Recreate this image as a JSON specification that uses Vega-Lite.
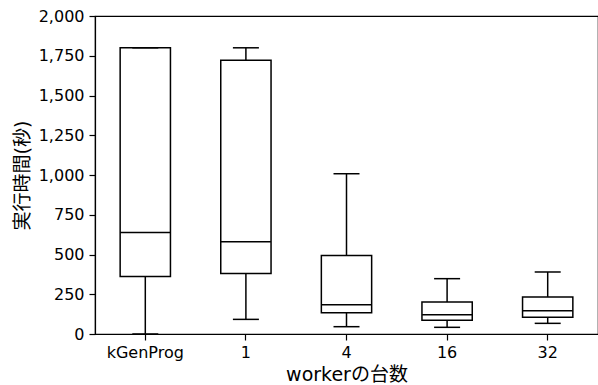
{
  "$schema": "https://vega.github.io/schema/vega-lite/v6.json",
  "width": 503,
  "height": 318,
  "autosize": {"type": "none"},
  "padding": {"left": 95, "top": 16, "right": 0, "bottom": 51},
  "background": "white",
  "config": {
    "view": {"stroke": "black", "strokeWidth": 1.2},
    "font": "DejaVu Sans, Noto Sans CJK JP",
    "axis": {
      "grid": false,
      "domainColor": "black",
      "domainWidth": 1.2,
      "tickColor": "black",
      "tickWidth": 1.2,
      "tickSize": 6,
      "labelColor": "black",
      "labelFontSize": 16,
      "labelFont": "DejaVu Sans, Noto Sans CJK JP",
      "titleFont": "DejaVu Sans, Noto Sans CJK JP",
      "titleFontSize": 19,
      "titleFontWeight": "normal",
      "titleColor": "black",
      "labelPadding": 4,
      "labelOverlap": false
    }
  },
  "data": {
    "values": [
      {"group": "kGenProg", "lower": 0, "q1": 362, "median": 639, "q3": 1800, "upper": 1800},
      {"group": "1", "lower": 92, "q1": 380, "median": 580, "q3": 1721, "upper": 1800},
      {"group": "4", "lower": 46, "q1": 134, "median": 184, "q3": 494, "upper": 1008},
      {"group": "16", "lower": 42, "q1": 86, "median": 121, "q3": 201, "upper": 348},
      {"group": "32", "lower": 67, "q1": 105, "median": 147, "q3": 233, "upper": 390}
    ]
  },
  "encoding": {
    "x": {
      "field": "group",
      "type": "nominal",
      "sort": ["kGenProg", "1", "4", "16", "32"],
      "scale": {"paddingInner": 0, "paddingOuter": 0},
      "axis": {"title": "workerの台数", "labelAngle": 0, "titlePadding": 5, "titleFontSize": 19}
    }
  },
  "layer": [
    {
      "mark": {"type": "rule", "color": "black", "strokeWidth": 1.5},
      "encoding": {
        "y": {"field": "lower", "type": "quantitative", "scale": {"domain": [0, 2000]},
          "axis": {"title": "実行時間(秒)", "values": [0, 250, 500, 750, 1000, 1250, 1500, 1750, 2000], "format": ",d", "labelPadding": 5, "titlePadding": 6, "labelOverlap": false, "labelBound": false}},
        "y2": {"field": "q1"}
      }
    },
    {
      "mark": {"type": "rule", "color": "black", "strokeWidth": 1.5},
      "encoding": {
        "y": {"field": "q3", "type": "quantitative",
          "axis": {"title": "実行時間(秒)", "values": [0, 250, 500, 750, 1000, 1250, 1500, 1750, 2000], "format": ",d", "labelPadding": 5, "titlePadding": 6, "labelOverlap": false, "labelBound": false}},
        "y2": {"field": "upper"}
      }
    },
    {
      "mark": {"type": "bar", "fill": "white", "stroke": "black", "strokeWidth": 1.5, "width": {"band": 0.5}},
      "encoding": {
        "y": {"field": "q1", "type": "quantitative",
          "axis": {"title": "実行時間(秒)", "values": [0, 250, 500, 750, 1000, 1250, 1500, 1750, 2000], "format": ",d", "labelPadding": 5, "titlePadding": 6, "labelOverlap": false, "labelBound": false}},
        "y2": {"field": "q3"}
      }
    },
    {
      "mark": {"type": "tick", "color": "black", "opacity": 1, "thickness": 1.5, "size": 50},
      "encoding": {"y": {"field": "median", "type": "quantitative",
          "axis": {"title": "実行時間(秒)", "values": [0, 250, 500, 750, 1000, 1250, 1500, 1750, 2000], "format": ",d", "labelPadding": 5, "titlePadding": 6, "labelOverlap": false, "labelBound": false}}}
    },
    {
      "mark": {"type": "tick", "color": "black", "opacity": 1, "thickness": 1.5, "size": 26},
      "encoding": {"y": {"field": "lower", "type": "quantitative",
          "axis": {"title": "実行時間(秒)", "values": [0, 250, 500, 750, 1000, 1250, 1500, 1750, 2000], "format": ",d", "labelPadding": 5, "titlePadding": 6, "labelOverlap": false, "labelBound": false}}}
    },
    {
      "mark": {"type": "tick", "color": "black", "opacity": 1, "thickness": 1.5, "size": 26},
      "encoding": {"y": {"field": "upper", "type": "quantitative",
          "axis": {"title": "実行時間(秒)", "values": [0, 250, 500, 750, 1000, 1250, 1500, 1750, 2000], "format": ",d", "labelPadding": 5, "titlePadding": 6, "labelOverlap": false, "labelBound": false}}}
    }
  ]
}
